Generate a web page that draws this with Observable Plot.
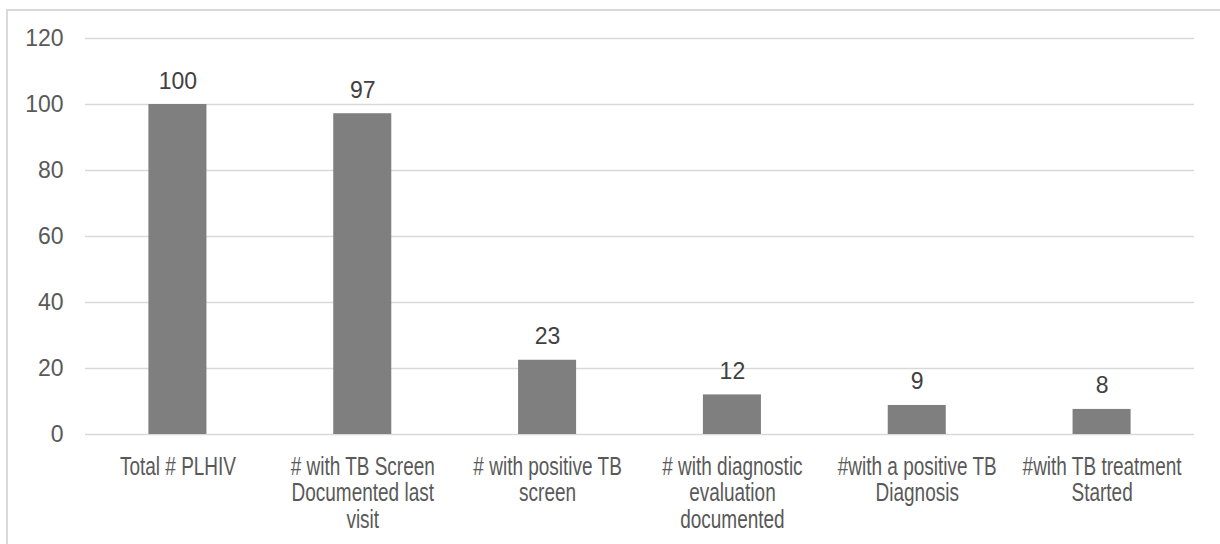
<!DOCTYPE html>
<html>
<head>
<meta charset="utf-8">
<script src="https://cdn.jsdelivr.net/npm/d3@7"></script>
<script src="https://cdn.jsdelivr.net/npm/@observablehq/plot@0.6"></script>
<style>
  html, body { margin: 0; padding: 0; background: #fff; }
  #wrap { position: relative; width: 1220px; height: 544px; overflow: hidden; }
  #border { position: absolute; left: 6px; top: 9px; width: 1400px; height: 700px;
            border-left: 2px solid #d9d9d9; border-top: 2px solid #d9d9d9; pointer-events: none; z-index: 2; }
  #chart svg { background: transparent !important; }
</style>
</head>
<body>
<div id="wrap"><div id="border"></div><div id="chart"></div></div>
<script>
const categories = [
  "Total # PLHIV",
  "# with TB Screen\nDocumented last\nvisit",
  "# with positive TB\nscreen",
  "# with diagnostic\nevaluation\ndocumented",
  "#with a positive TB\nDiagnosis",
  "#with TB treatment\nStarted"
];
const values = [100, 97.2, 22.5, 12, 8.8, 7.6];
const valueLabels = ["100", "97", "23", "12", "9", "8"];
const yTicks = [0, 20, 40, 60, 80, 100, 120];

const data = categories.map((c, i) => ({cat: c, value: values[i], label: valueLabels[i]}));

const plot = Plot.plot({
  width: 1220,
  height: 544,
  marginLeft: 85,
  marginRight: 26,
  marginTop: 38,
  marginBottom: 110,
  style: {fontFamily: "'Liberation Sans', Arial, sans-serif", background: "transparent"},
  x: {domain: categories, paddingInner: 0.686, paddingOuter: 0.343, round: false, label: null},
  y: {domain: [0, 120], label: null},
  marks: [
    Plot.gridY(yTicks, {stroke: "#d9d9d9", strokeOpacity: 1, strokeWidth: 1.3}),
    Plot.barY(data, {x: "cat", y: "value", fill: "#7f7f7f"}),
    Plot.text(data, {x: "cat", y: "value", text: "label", dy: -16, lineAnchor: "bottom",
                     fontSize: 23, fill: "#404040"}),
    Plot.axisY(yTicks, {tickSize: 0, tickPadding: 22, fontSize: 23, color: "#595959", label: null}),
    Plot.axisX({tickSize: 0, tickPadding: 22, fontSize: 25, lineHeight: 1.05,
                color: "#595959", label: null, textOverflow: null, lineWidth: Infinity})
  ]
});
document.getElementById("chart").appendChild(plot);

// Horizontally condense the category labels as in the reference
const s = 0.76;
plot.querySelectorAll('g[aria-label="x-axis tick label"] text').forEach(el => {
  const bb = el.getBBox();
  const cx = bb.x + bb.width / 2;
  const prev = el.getAttribute("transform") || "";
  el.setAttribute("transform", `${prev} translate(${cx},0) scale(${s},1) translate(${-cx},0)`.trim());
});
</script>
</body>
</html>
